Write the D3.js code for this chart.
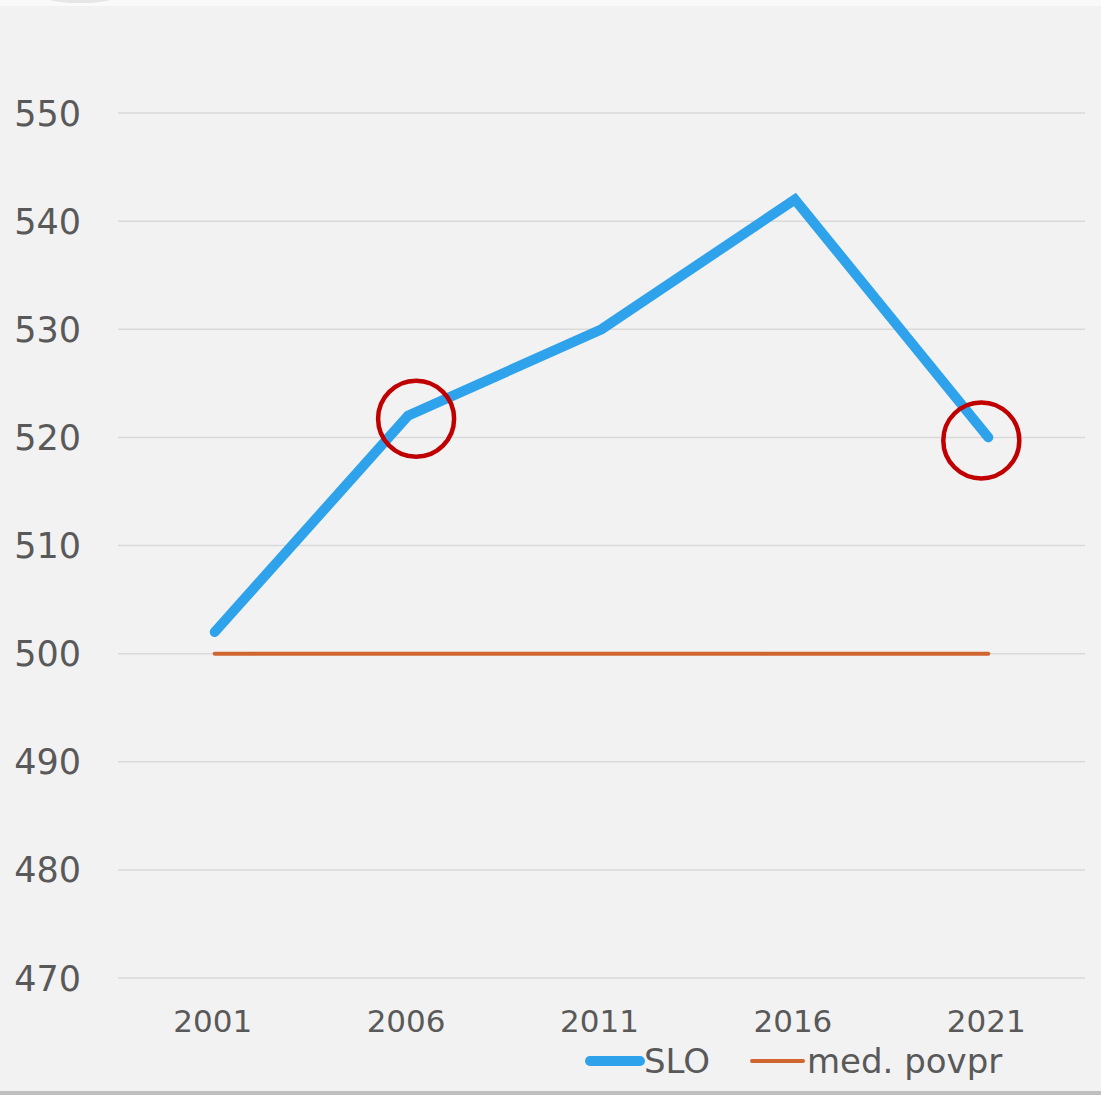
<!DOCTYPE html>
<html>
<head>
<meta charset="utf-8">
<script src="https://cdn.jsdelivr.net/npm/d3@7"></script>
<style>
  body { margin: 0; background: #f2f2f2; }
  text { font-family: "DejaVu Sans", sans-serif; fill: #595959; }
</style>
</head>
<body>
<div id="chart"></div>
<script>
const years = ["2001", "2006", "2011", "2016", "2021"];
const sloValues = [502, 522, 530, 542, 520];
const avgValues = [500, 500, 500, 500, 500];
const yTicks = [470, 480, 490, 500, 510, 520, 530, 540, 550];
const highlighted = ["2006", "2021"];
const legendItems = ["SLO", "med. povpr"];

const width = 1101, height = 1095;
const margin = { top: 113, right: 16, bottom: 117, left: 118 };

const svg = d3.select("#chart").append("svg")
    .attr("width", width)
    .attr("height", height);

// page frame
svg.append("rect").attr("width", width).attr("height", height).attr("fill", "#f2f2f2");
svg.append("rect").attr("width", width).attr("height", 6).attr("fill", "#fafafa");
svg.append("ellipse").attr("cx", 80).attr("cy", -8).attr("rx", 45).attr("ry", 11)
    .attr("fill", "#d9d9d9").attr("opacity", 0.6);
svg.append("rect").attr("x", 0).attr("y", 1091).attr("width", width).attr("height", 4).attr("fill", "#bfbfbf");

const x = d3.scaleBand()
    .domain(years)
    .range([margin.left, width - margin.right]);

const y = d3.scaleLinear()
    .domain([470, 550])
    .range([height - margin.bottom, margin.top]);

const cx = d => x(d) + x.bandwidth() / 2;

// gridlines
svg.append("g")
    .selectAll("line")
    .data(yTicks)
    .enter()
    .append("line")
    .attr("x1", margin.left)
    .attr("x2", width - margin.right)
    .attr("y1", d => y(d))
    .attr("y2", d => y(d))
    .attr("stroke", "#d9d9d9")
    .attr("stroke-width", 1.5);

// y labels
svg.append("g")
    .selectAll("text")
    .data(yTicks)
    .enter()
    .append("text")
    .attr("x", 81)
    .attr("y", d => y(d))
    .attr("dy", "0.36em")
    .attr("text-anchor", "end")
    .attr("font-size", "35px")
    .text(d => d);

// x labels
svg.append("g")
    .selectAll("text")
    .data(years)
    .enter()
    .append("text")
    .attr("x", d => cx(d) - 2)
    .attr("y", 1032)
    .attr("text-anchor", "middle")
    .attr("font-size", "31px")
    .text(d => d);

const line = d3.line()
    .x((d, i) => cx(years[i]))
    .y(d => y(d));

svg.append("path")
    .datum(avgValues)
    .attr("d", line)
    .attr("fill", "none")
    .attr("stroke", "#d0652f")
    .attr("stroke-width", 4)
    .attr("stroke-linecap", "round");

svg.append("path")
    .datum(sloValues)
    .attr("d", line)
    .attr("fill", "none")
    .attr("stroke", "#2ea3ec")
    .attr("stroke-width", 10)
    .attr("stroke-linecap", "round")
    .attr("stroke-linejoin", "miter");

// highlight circles
svg.append("g")
    .selectAll("circle")
    .data(highlighted)
    .enter()
    .append("circle")
    .attr("cx", (d, i) => cx(d) + (i === 0 ? 8 : -7))
    .attr("cy", d => y(sloValues[years.indexOf(d)]) + 3)
    .attr("r", 38)
    .attr("fill", "none")
    .attr("stroke", "#c00000")
    .attr("stroke-width", 4.5);

// legend
const legend = svg.append("g");
const legendX = [590, 752];
const legendW = [50, 51];
const legendColors = ["#2ea3ec", "#d0652f"];
const legendStroke = [10, 4];
legendItems.forEach((name, i) => {
    legend.append("line")
        .attr("x1", legendX[i])
        .attr("x2", legendX[i] + legendW[i])
        .attr("y1", 1061)
        .attr("y2", 1061)
        .attr("stroke", legendColors[i])
        .attr("stroke-width", legendStroke[i])
        .attr("stroke-linecap", "round");
    legend.append("text")
        .attr("x", legendX[i] + legendW[i] + 4)
        .attr("y", 1073)
        .attr("font-size", "34px")
        .text(name);
});
</script>
</body>
</html>
